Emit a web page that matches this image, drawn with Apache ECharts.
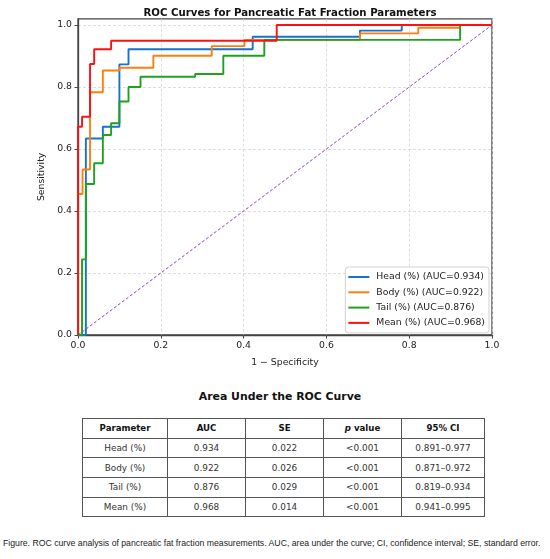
<!DOCTYPE html>
<html>
<head>
<meta charset="utf-8">
<script src="https://cdn.jsdelivr.net/npm/echarts@6/dist/echarts.min.js"></script>
<style>
  html, body { margin: 0; padding: 0; background: #fff; }
  body { width: 550px; height: 559px; position: relative; overflow: hidden; font-family: "DejaVu Sans", sans-serif; }
  #chart { position: absolute; left: 0; top: 0; width: 550px; height: 380px; }
  #tblTitle { position: absolute; left: 0; width: 560px; top: 390px; text-align: center; font-weight: bold; font-size: 10.9px; color: #111; }
  #auc { position: absolute; left: 82px; top: 418px; width: 402px; border-collapse: collapse; table-layout: fixed; font-size: 8.9px; color: #333; }
  #auc td, #auc th { border: 1px solid #555; height: 18.7px; padding: 0; text-align: center; }
  #auc th { font-weight: bold; color: #111; font-size: 8.6px; }
  #caption { position: absolute; left: 3px; top: 538px; font-family: "Liberation Sans", sans-serif; font-size: 8.7px; color: #222; white-space: nowrap; }
</style>
</head>
<body>
<div id="chart"></div>
<div id="tblTitle">Area Under the ROC Curve</div>
<table id="auc"></table>
<div id="caption">Figure. ROC curve analysis of pancreatic fat fraction measurements. AUC, area under the curve; CI, confidence interval; SE, standard error.</div>
<script>
// ROC vertices: [1 - specificity, sensitivity]
var headRoc = [[0,0],[0.019,0],[0.019,0.634],[0.060,0.634],[0.060,0.672],[0.10,0.672],[0.10,0.873],[0.122,0.873],[0.122,0.922],[0.422,0.922],[0.422,0.962],[0.681,0.962],[0.681,0.982],[0.782,0.982],[0.782,1],[1,1]];
var bodyRoc = [[0,0],[0,0.455],[0.011,0.455],[0.011,0.534],[0.029,0.534],[0.029,0.783],[0.060,0.783],[0.060,0.853],[0.10,0.853],[0.10,0.862],[0.182,0.862],[0.182,0.901],[0.323,0.901],[0.323,0.932],[0.402,0.932],[0.402,0.952],[0.681,0.952],[0.681,0.973],[0.822,0.973],[0.822,0.991],[0.923,0.991],[0.923,1],[1,1]];
var tailRoc = [[0,0],[0.0097,0],[0.0097,0.244],[0.019,0.244],[0.019,0.487],[0.039,0.487],[0.039,0.554],[0.060,0.554],[0.060,0.645],[0.080,0.645],[0.080,0.683],[0.10,0.683],[0.10,0.753],[0.122,0.753],[0.122,0.80],[0.151,0.80],[0.151,0.833],[0.283,0.833],[0.283,0.842],[0.351,0.842],[0.351,0.901],[0.45,0.901],[0.45,0.952],[0.923,0.952],[0.923,1],[1,1]];
var meanRoc = [[0,0],[0,0.672],[0.0097,0.672],[0.0097,0.704],[0.029,0.704],[0.029,0.874],[0.039,0.874],[0.039,0.922],[0.080,0.922],[0.080,0.949],[0.48,0.949],[0.48,1],[1,1]];
var chanceLine = [[0,0],[1,1]];

var seriesNames = ["Head (%) (AUC=0.934)","Body (%) (AUC=0.922)","Tail (%) (AUC=0.876)","Mean (%) (AUC=0.968)"];
var seriesColors = ["#1672cf","#ff7f0e","#1ea21e","#ff1010"];
var tickValues = [0, 0.2, 0.4, 0.6, 0.8, 1.0];

// table
var tableHeader = ["Parameter","AUC","SE","<i>p</i> value","95% CI"];
var parameters = ["Head (%)","Body (%)","Tail (%)","Mean (%)"];
var aucValues = ["0.934","0.922","0.876","0.968"];
var seValues = ["0.022","0.026","0.029","0.014"];
var pValues = ["<0.001","<0.001","<0.001","<0.001"];
var ciValues = ["0.891–0.977","0.871–0.972","0.819–0.934","0.941–0.995"];
var colWidths = [85, 78, 78, 78, 83];

var tbl = document.getElementById("auc");
var html = "<colgroup>";
colWidths.forEach(function(w){ html += '<col style="width:'+w+'px">'; });
html += "</colgroup><tr>";
tableHeader.forEach(function(h){ html += "<th>"+h+"</th>"; });
html += "</tr>";
for (var r = 0; r < parameters.length; r++) {
  html += "<tr><td>"+parameters[r]+"</td><td>"+aucValues[r]+"</td><td>"+seValues[r]+"</td><td>"+pValues[r].replace("<","&lt;")+"</td><td>"+ciValues[r]+"</td></tr>";
}
tbl.innerHTML = html;

var font = "DejaVu Sans";
var rocData = [headRoc, bodyRoc, tailRoc, meanRoc];
var series = [{
  name: "chance",
  type: "line",
  data: chanceLine,
  showSymbol: false,
  silent: true,
  lineStyle: { color: "#8a3fd1", width: 1, type: [3, 2] },
  z: 1
}];
for (var i = 0; i < rocData.length; i++) {
  series.push({
    name: seriesNames[i],
    type: "line",
    data: rocData[i],
    showSymbol: false,
    lineStyle: { color: seriesColors[i], width: 1.9 },
    itemStyle: { color: seriesColors[i] },
    z: 2 + i
  });
}

var chart = echarts.init(document.getElementById("chart"));
chart.setOption({
  animation: false,
  title: {
    text: "ROC Curves for Pancreatic Fat Fraction Parameters",
    left: 285, top: 3, textAlign: "center",
    textStyle: { fontFamily: font, fontSize: 10.2, fontWeight: "bold", color: "#111" }
  },
  grid: { left: 78, right: 58, top: 18.8, bottom: 45, show: true, borderColor: "#444", borderWidth: 1.3, backgroundColor: "transparent" },
  legend: {
    data: seriesNames,
    orient: "vertical",
    right: 61, top: 267,
    backgroundColor: "#fff",
    borderColor: "#d0d0d0", borderWidth: 1, borderRadius: 3,
    padding: [4, 4, 4, 3],
    itemWidth: 21, itemHeight: 2, itemGap: 3.3,
    icon: "rect",
    textStyle: { fontFamily: font, fontSize: 9.3, color: "#222", lineHeight: 12, padding: [0, 0, 0, 2] }
  },
  xAxis: {
    type: "value", min: 0, max: 1, interval: 0.2,
    name: "1 − Specificity", nameLocation: "middle", nameGap: 23,
    nameTextStyle: { fontFamily: font, fontSize: 9.3, color: "#222" },
    axisLine: { lineStyle: { color: "#444", width: 1.3 } },
    axisTick: { show: true, length: 3.5, lineStyle: { color: "#444" } },
    axisLabel: { margin: 6, fontFamily: font, fontSize: 9.3, color: "#222", formatter: function(v){ return v.toFixed(1); } },
    splitLine: { show: true, lineStyle: { color: "#d4d4d4", type: [3, 2], width: 0.8 } }
  },
  yAxis: {
    type: "value", min: 0, max: 1.02, interval: 0.2,
    name: "Sensitivity", nameLocation: "middle", nameGap: 25,
    nameTextStyle: { fontFamily: font, fontSize: 9.3, color: "#222" },
    axisLine: { show: true, lineStyle: { color: "#444", width: 1.3 } },
    axisTick: { show: true, length: 3.5, lineStyle: { color: "#444" }, customValues: tickValues },
    axisLabel: { margin: 6, fontFamily: font, fontSize: 9.3, color: "#222", customValues: tickValues, formatter: function(v){ return v.toFixed(1); } },
    splitLine: { show: true, lineStyle: { color: "#d4d4d4", type: [3, 2], width: 0.8 } }
  },
  series: series
});
</script>
</body>
</html>
